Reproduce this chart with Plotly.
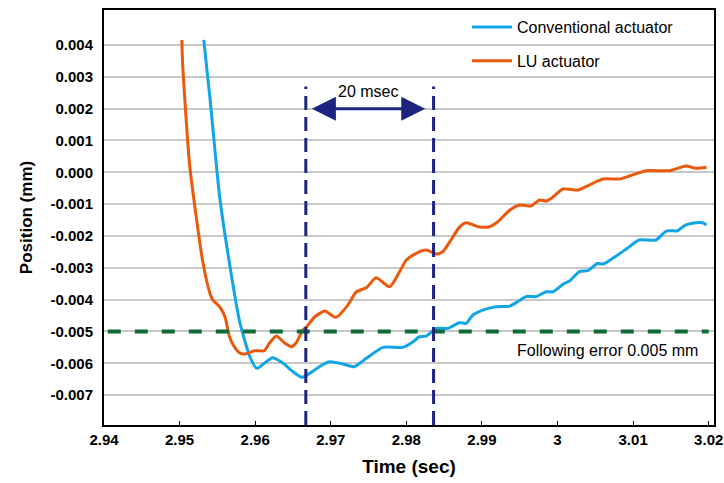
import plotly.graph_objects as go

# ---------------- data ----------------
conv_t = [2.9532, 2.9540, 2.9553, 2.9566, 2.9579, 2.9593, 2.9602, 2.9612, 2.9623, 2.9637,
          2.9650, 2.9662, 2.9672, 2.9685, 2.9698, 2.9716, 2.9731, 2.9747, 2.9769, 2.9795,
          2.9809, 2.9817, 2.9826, 2.9840, 2.9855, 2.9870, 2.9879, 2.9888, 2.9901, 2.9919,
          2.9937, 2.9947, 2.9959, 2.9972, 2.9985, 2.9994, 3.0009, 3.0016, 3.0029, 3.0040,
          3.0053, 3.0060, 3.0073, 3.0091, 3.0108, 3.0130, 3.0144, 3.0159, 3.0168, 3.0183,
          3.0192, 3.0197]
conv_pos = [0.00416, 0.002375, -0.000767, -0.002861, -0.004642, -0.005796, -0.00616, -0.006003, -0.005827, -0.006003,
            -0.006267, -0.006443, -0.006318, -0.00611, -0.005953, -0.006025, -0.00611, -0.005846, -0.0055, -0.0055,
            -0.005324, -0.005167, -0.005145, -0.004903, -0.004903, -0.004727, -0.004746, -0.004485, -0.004328, -0.004224,
            -0.004203, -0.004067, -0.003904, -0.003904, -0.003753, -0.003753, -0.003489, -0.003417, -0.003118, -0.003087,
            -0.002867, -0.002883, -0.002703, -0.002411, -0.002128, -0.002128, -0.001845, -0.001836, -0.001673, -0.001585,
            -0.001585, -0.001657]

lu_t = [2.9503, 2.9504, 2.9513, 2.9522, 2.9531, 2.9540, 2.9544, 2.9553, 2.9560, 2.9566,
        2.9571, 2.9579, 2.9586, 2.9599, 2.9612, 2.9619, 2.9628, 2.9639, 2.9648, 2.9654,
        2.9663, 2.9668, 2.9679, 2.9692, 2.9707, 2.9721, 2.9734, 2.9747, 2.9760, 2.9778,
        2.9791, 2.9800, 2.9813, 2.9826, 2.9840, 2.9848, 2.9859, 2.9870, 2.9879, 2.9895,
        2.9910, 2.9921, 2.9937, 2.9950, 2.9965, 2.9976, 2.9985, 2.9992, 3.0007, 3.0027,
        3.0042, 3.0060, 3.0082, 3.0095, 3.0117, 3.0148, 3.0170, 3.0183, 3.0197]
lu_pos = [0.00416, 0.003425, 0.000292, -0.001396, -0.002851, -0.003794, -0.004014, -0.004224, -0.004539, -0.005167,
          -0.005428, -0.00567, -0.005711, -0.005607, -0.005607, -0.005365, -0.005145, -0.005365, -0.005481, -0.005365,
          -0.004957, -0.004853, -0.004539, -0.00436, -0.004558, -0.004224, -0.003753, -0.003627, -0.003313, -0.003596,
          -0.003124, -0.002757, -0.002546, -0.002442, -0.002568, -0.002496, -0.002128, -0.001729, -0.001585, -0.00171,
          -0.00171, -0.001553, -0.001185, -0.001028, -0.00106, -0.000871, -0.000903, -0.000818, -0.000525, -0.000557,
          -0.0004, -0.000211, -0.000211, -0.000117, 0.00005, 0.00005, 0.000197, 0.000125, 0.000156]

x_tick_vals = [2.94, 2.95, 2.96, 2.97, 2.98, 2.99, 3.00, 3.01, 3.02]
x_tick_text = ["2.94", "2.95", "2.96", "2.97", "2.98", "2.99", "3", "3.01", "3.02"]
y_tick_vals = [0.004, 0.003, 0.002, 0.001, 0.0, -0.001, -0.002, -0.003, -0.004, -0.005, -0.006, -0.007]
y_tick_text = ["0.004", "0.003", "0.002", "0.001", "0.000", "-0.001", "-0.002", "-0.003",
               "-0.004", "-0.005", "-0.006", "-0.007"]

following_error = -0.005
error_line_t = [2.9405, 3.0200]
marker_t1 = 2.9667
marker_t2 = 2.9836
marker_top = 0.0027
arrow_y = 0.002
arrow_t = [2.9673, 2.9825]

X_RANGE = [2.94, 3.0207]
Y_RANGE = [-0.00794, 0.0051]

BLUE = "#12A5E5"
ORANGE = "#EA590C"
GREEN = "#0E6A37"
NAVY = "#1D2480"
FONT = "Liberation Sans, Arial, sans-serif"

fig = go.Figure()
fig.add_trace(go.Scatter(x=conv_t, y=conv_pos, mode="lines", name="Conventional actuator",
                         legendgroup="a", line=dict(color=BLUE, width=3, shape="spline", smoothing=0.6)))
fig.add_trace(go.Scatter(x=lu_t, y=lu_pos, mode="lines", name="LU actuator",
                         legendgroup="b", line=dict(color=ORANGE, width=3, shape="spline", smoothing=0.6)))

# following error line
fig.add_shape(type="line", x0=error_line_t[0], x1=error_line_t[1], y0=following_error, y1=following_error,
              xref="x", yref="y", line=dict(color=GREEN, width=4, dash="13px,14px"), layer="above")
# marker lines
for t in (marker_t1, marker_t2):
    fig.add_shape(type="line", x0=t, x1=t, y0=Y_RANGE[0], y1=marker_top, xref="x", yref="y",
                  line=dict(color=NAVY, width=3, dash="14px,7px"))

# double arrow
fig.add_annotation(x=arrow_t[1], y=arrow_y, ax=arrow_t[0], ay=arrow_y, xref="x", yref="y",
                   axref="x", ayref="y", text="", showarrow=True, arrowside="end+start",
                   arrowhead=2, arrowsize=1.6, arrowwidth=3, arrowcolor=NAVY, standoff=0, startstandoff=0)
fig.add_annotation(x=(arrow_t[0] + arrow_t[1]) / 2, y=0.00255, xref="x", yref="y", text="20 msec",
                   showarrow=False, font=dict(family=FONT, size=16, color="#000000"))
fig.add_annotation(x=3.0189, y=-0.00559, xref="x", yref="y", text="Following error 0.005 mm",
                   showarrow=False, xanchor="right", font=dict(family=FONT, size=16, color="#000000"))

fig.update_layout(
    width=724, height=483,
    margin=dict(l=104, r=10, t=10, b=58),
    paper_bgcolor="white", plot_bgcolor="white",
    font=dict(family=FONT, color="#000000"),
    showlegend=True,
    legend=dict(x=0.595, y=1.0, xanchor="left", yanchor="top", bgcolor="rgba(0,0,0,0)",
                font=dict(family=FONT, size=16, color="#000000"), tracegroupgap=10, itemwidth=40),
    xaxis=dict(range=X_RANGE, tickvals=x_tick_vals, ticktext=x_tick_text, showgrid=False,
               zeroline=False, showline=True, linecolor="#000000", linewidth=2, mirror=True,
               ticks="inside", ticklen=4, tickcolor="#000000", tickwidth=1, automargin=False,
               ticklabeloverflow="allow",
               tickfont=dict(family=FONT, size=15, color="#000000", weight="bold"),
               title=dict(text="<b>Time (sec)</b>", font=dict(family=FONT, size=19, color="#000000"), standoff=13)),
    yaxis=dict(range=Y_RANGE, tickvals=y_tick_vals, ticktext=y_tick_text, showgrid=True,
               gridcolor="#C8C8C8", gridwidth=1.5, zeroline=False, showline=True, linecolor="#000000",
               linewidth=2, mirror=True, ticks="", ticklabelstandoff=6, automargin=False,
               tickfont=dict(family=FONT, size=15, color="#000000", weight="bold"),
               title=dict(text="<b>Position (mm)</b>", font=dict(family=FONT, size=17, color="#000000"), standoff=14)),
)

fig.write_html("out.html", config={"displayModeBar": False},
               post_script="document.body.style.margin='0px';document.body.style.overflow='hidden';")
